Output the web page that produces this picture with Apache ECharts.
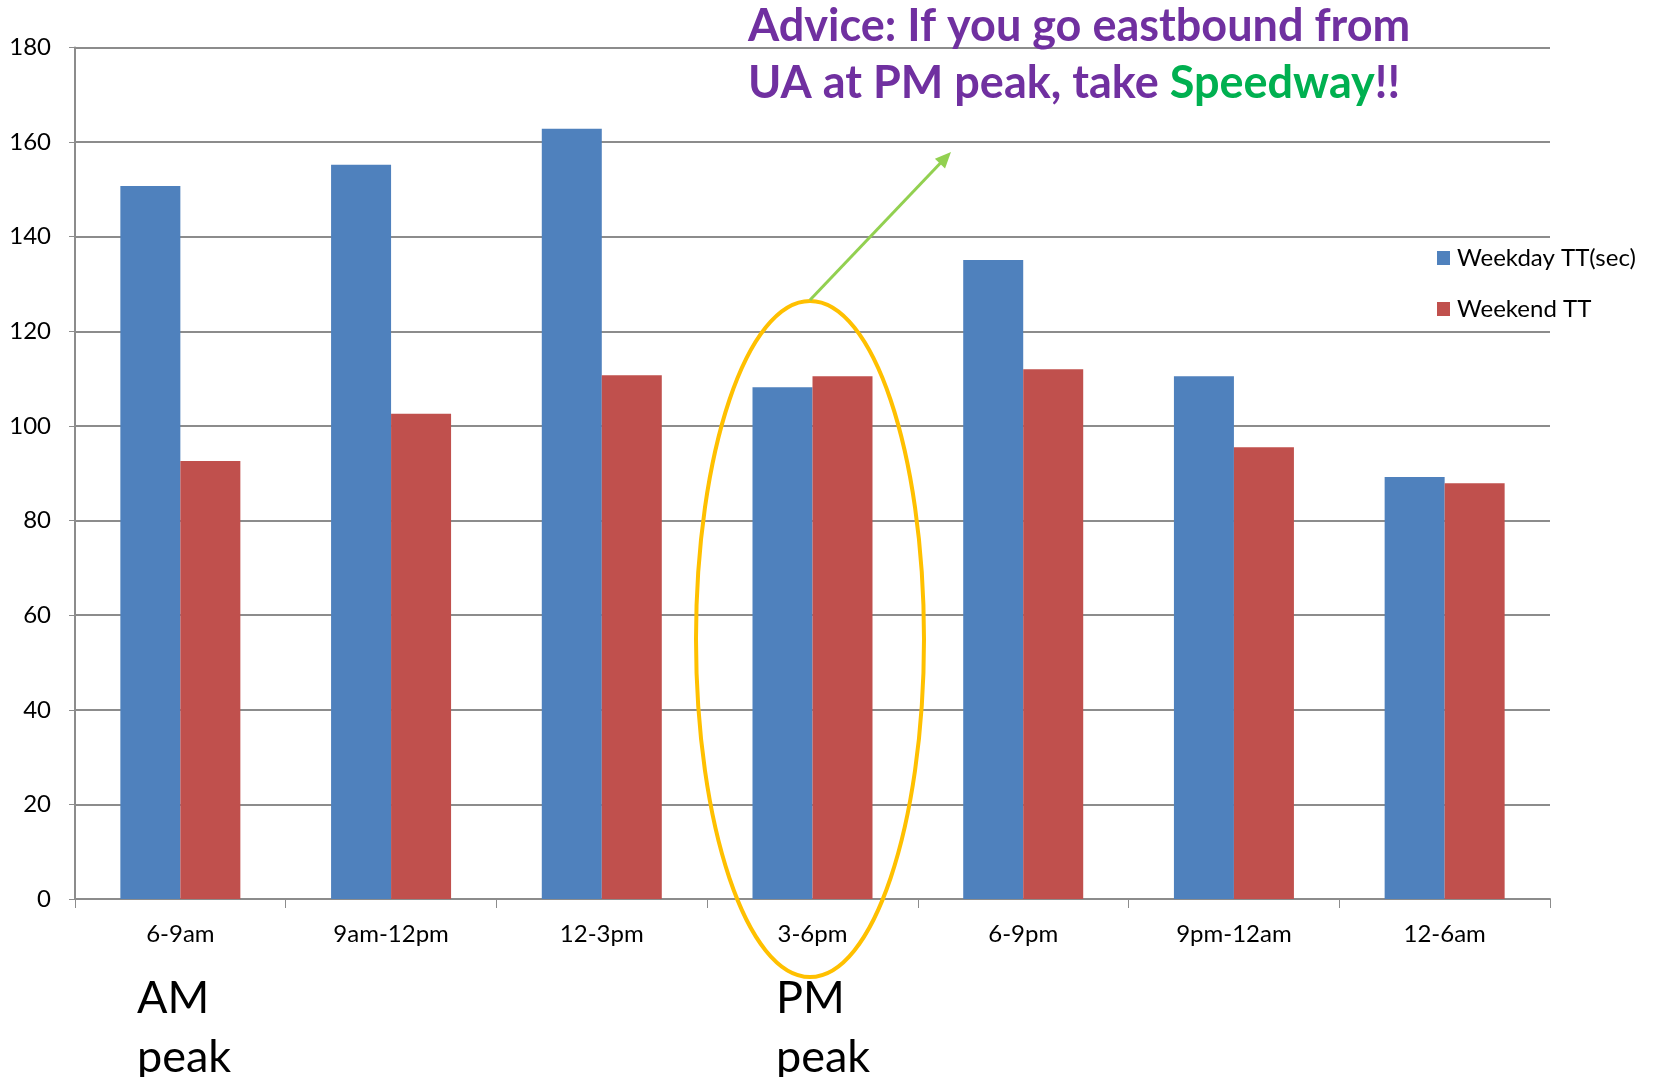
<!DOCTYPE html>
<html>
<head>
<meta charset="utf-8">
<script src="https://cdn.jsdelivr.net/npm/echarts@6/dist/echarts.min.js"></script>
<style>
  html, body { margin: 0; padding: 0; background: #ffffff; }
  #chart { width: 1656px; height: 1077px; }
</style>
</head>
<body>
<div id="chart"></div>
<script>
// Travel time by time of day (seconds)
const periods = ['6-9am', '9am-12pm', '12-3pm', '3-6pm', '6-9pm', '9pm-12am', '12-6am'];
const weekdayTT = [150.7, 155.2, 162.8, 108.2, 135.1, 110.5, 89.2];
const weekendTT = [92.6, 102.6, 110.7, 110.5, 112.0, 95.5, 87.9];
const seriesNames = ['Weekday TT(sec)', 'Weekend TT'];
const yMin = 0, yMax = 180, yStep = 20;

const FONT = 'Lato, "Open Sans", sans-serif';
const BLUE = '#4F81BD', RED = '#C0504D';
const PURPLE = '#7030A0', GREEN = '#00B050';
const GRID_GRAY = '#8c8c8c';

// arrow from the highlighted period up toward the advice text
const arrowFrom = [810, 300], arrowTo = [951, 152];
function arrowHead(from, to, len, half) {
  const dx = to[0] - from[0], dy = to[1] - from[1];
  const d = Math.hypot(dx, dy), ux = dx / d, uy = dy / d;
  const bx = to[0] - ux * len, by = to[1] - uy * len;
  return [to, [bx - uy * half, by + ux * half], [bx + uy * half, by - ux * half]];
}

const chart = echarts.init(document.getElementById('chart'), null, { renderer: 'canvas' });
chart.setOption({
  backgroundColor: '#ffffff',
  animation: false,
  grid: { left: 75, right: 106, top: 47.5, bottom: 178 },
  legend: {
    orient: 'vertical',
    left: 1432, top: 241,
    itemWidth: 13, itemHeight: 14, itemGap: 27,
    icon: 'rect',
    data: seriesNames,
    textStyle: { fontFamily: FONT, fontSize: 24, color: '#000', padding: [0, 0, 0, 2] }
  },
  xAxis: {
    type: 'category',
    data: periods,
    boundaryGap: true,
    axisLine: { lineStyle: { color: GRID_GRAY, width: 2 } },
    axisTick: { show: true, length: 9, lineStyle: { color: GRID_GRAY, width: 1 } },
    axisLabel: { fontFamily: FONT, fontSize: 24, color: '#000', margin: 23 }
  },
  yAxis: {
    type: 'value',
    min: yMin, max: yMax, interval: yStep,
    axisLine: { show: true, lineStyle: { color: GRID_GRAY, width: 2 } },
    axisTick: { show: true, length: 6, lineStyle: { color: GRID_GRAY, width: 1 } },
    axisLabel: { fontFamily: FONT, fontSize: 24, color: '#000', margin: 24 },
    splitLine: { show: true, lineStyle: { color: GRID_GRAY, width: 2 } }
  },
  series: [
    {
      name: seriesNames[0], type: 'bar', data: weekdayTT,
      barWidth: 60, barGap: '0%',
      itemStyle: { color: BLUE }
    },
    {
      name: seriesNames[1], type: 'bar', data: weekendTT,
      barWidth: 60, barGap: '0%',
      itemStyle: { color: RED }
    }
  ],
  graphic: [
    {
      type: 'text', left: 748, top: 4, z: 10,
      style: { text: 'Advice: If you go eastbound from', fontFamily: FONT, fontWeight: 'bold', fontSize: 45, fill: PURPLE }
    },
    {
      type: 'text', left: 748, top: 61, z: 10,
      style: {
        text: '{p|UA at PM peak, take }{g|Speedway}{p|!!}',
        rich: {
          p: { fontFamily: FONT, fontWeight: 'bold', fontSize: 45, fill: PURPLE },
          g: { fontFamily: FONT, fontWeight: 'bold', fontSize: 45, fill: GREEN }
        }
      }
    },
    {
      type: 'ellipse', z: 10,
      shape: { cx: 810, cy: 639, rx: 114, ry: 338 },
      style: { fill: 'none', stroke: '#FFC000', lineWidth: 4 }
    },
    {
      type: 'line', z: 10,
      shape: { x1: arrowFrom[0], y1: arrowFrom[1], x2: arrowTo[0] - 6, y2: arrowTo[1] + 6.3 },
      style: { stroke: '#92D050', lineWidth: 3 }
    },
    {
      type: 'polygon', z: 10,
      shape: { points: arrowHead(arrowFrom, arrowTo, 16, 7) },
      style: { fill: '#92D050' }
    },
    {
      type: 'text', left: 137, top: 969, z: 10,
      style: { text: 'AM\npeak', fontFamily: FONT, fontSize: 45, lineHeight: 59, fill: '#000' }
    },
    {
      type: 'text', left: 776, top: 969, z: 10,
      style: { text: 'PM\npeak', fontFamily: FONT, fontSize: 45, lineHeight: 59, fill: '#000' }
    }
  ]
});
</script>
</body>
</html>
